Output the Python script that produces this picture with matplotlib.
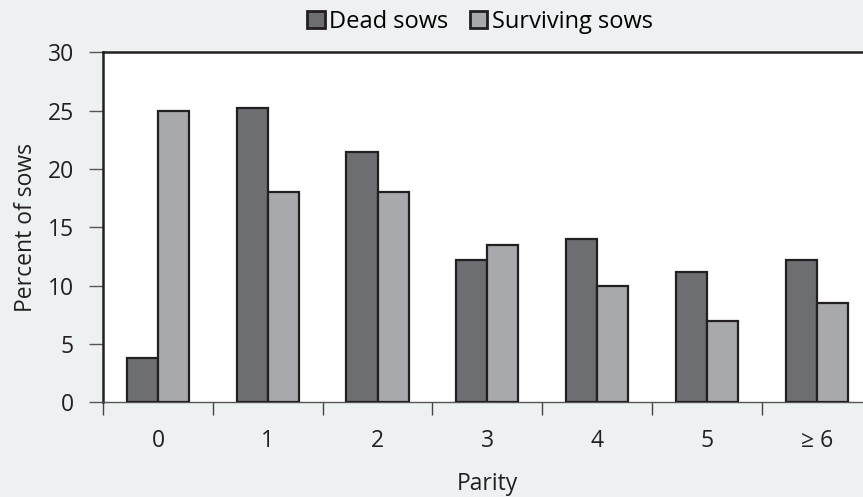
import matplotlib

matplotlib.use("Agg")
import matplotlib.pyplot as plt  # noqa: E402
import numpy as np  # noqa: E402
from matplotlib.patches import Patch  # noqa: E402

parity = ["0", "1", "2", "3", "4", "5", "\u2265 6"]
dead = [3.8, 25.2, 21.5, 12.2, 14.0, 11.2, 12.2]
surviving = [25.0, 18.0, 18.0, 13.5, 10.0, 7.0, 8.5]
yticks = [0, 5, 10, 15, 20, 25, 30]

DARK = "#6d6e71"
LIGHT = "#a7a9ac"
EDGE = "#231f20"
BG = "#edf1f2"

plt.rcParams["font.family"] = ["Open Sans", "DejaVu Sans"]
plt.rcParams["font.size"] = 16.5

fig = plt.figure(figsize=(8.63, 4.97), dpi=100, facecolor=BG)
ax = fig.add_axes([0.1194, 0.1905, 0.8906, 0.704])
ax.set_facecolor("white")

x = np.arange(len(parity))
w = 0.283
ax.bar(x - w / 2, dead, w, color=DARK, edgecolor=EDGE, linewidth=1.6, zorder=3)
ax.bar(x + w / 2, surviving, w, color=LIGHT, edgecolor=EDGE, linewidth=1.6, zorder=3)

ax.set_xlim(-0.5, len(parity) - 0.5)
ax.set_ylim(0, 30)
ax.set_yticks(yticks)
ax.set_xticks(x, labels=parity)
ax.set_xticks(np.arange(len(parity) + 1) - 0.5, minor=True)
ax.tick_params(axis="x", which="major", length=0, pad=19, colors=EDGE)
ax.tick_params(axis="x", which="minor", length=9, width=1, color="#444444", direction="out")
ax.tick_params(axis="y", length=10, width=1, pad=11, colors=EDGE)
ax.tick_params(axis="y", which="major", color="#555555")

for side in ("left", "top"):
    ax.spines[side].set_linewidth(1.8)
    ax.spines[side].set_color(EDGE)
ax.spines["right"].set_visible(False)
ax.spines["bottom"].set_linewidth(1.0)
ax.spines["bottom"].set_color("#555555")

ax.set_ylabel("Percent of sows", labelpad=7, color=EDGE)
ax.set_xlabel("Parity", labelpad=14, color=EDGE)

handles = [Patch(facecolor=DARK, edgecolor=EDGE, linewidth=2, label="Dead sows"),
           Patch(facecolor=LIGHT, edgecolor=EDGE, linewidth=2, label="Surviving sows")]
fig.legend(handles=handles, loc="center", bbox_to_anchor=(480 / 863, 1 - 22 / 497),
           ncol=2, frameon=False, handlelength=0.75, handleheight=0.75,
           handletextpad=0.2, columnspacing=0.9, fontsize=17)

fig.savefig("out.png", dpi=100, facecolor=BG)
